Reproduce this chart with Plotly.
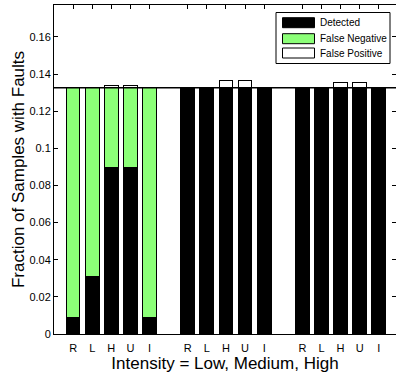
import plotly.graph_objects as go

# ---- data ----
groups = ["Low", "Medium", "High"]
methods = ["R", "L", "H", "U", "I"]
series_names = ["Detected", "False Negative", "False Positive"]

detected_low = [0.0088, 0.0311, 0.0897, 0.0897, 0.0088]
detected_medium = [0.1326, 0.1326, 0.1326, 0.1326, 0.1326]
detected_high = [0.1326, 0.1326, 0.1326, 0.1326, 0.1326]

false_negative_low = [0.1238, 0.1015, 0.0429, 0.0429, 0.1238]
false_negative_medium = [0, 0, 0, 0, 0]
false_negative_high = [0, 0, 0, 0, 0]

false_positive_low = [0, 0, 0.0013, 0.0013, 0]
false_positive_medium = [0, 0, 0.0042, 0.0042, 0]
false_positive_high = [0, 0, 0.0027, 0.0027, 0]

total_fault_fraction = 0.1326

y_tick_values = [0, 0.02, 0.04, 0.06, 0.08, 0.10, 0.12, 0.14, 0.16]
y_tick_labels = ["0", "0.02", "0.04", "0.06", "0.08", "0.1", "0.12", "0.14", "0.16"]

# ---- layout helpers ----
W, H = 396, 382
ML, MR, MT, MB = 54, 0, 5, 48
FONT = "Liberation Sans, Arial, Helvetica, sans-serif"

positions = []
tick_text = []
for g in range(len(groups)):
    for i, m in enumerate(methods):
        positions.append(g * (len(methods) + 1) + i + 1)
        tick_text.append(m)

detected = detected_low + detected_medium + detected_high
false_neg = false_negative_low + false_negative_medium + false_negative_high
false_pos = false_positive_low + false_positive_medium + false_positive_high


def nz(vals):
    return [v if v else None for v in vals]


colors = ["#000000", "#8cff78", "#ffffff"]
bar_w = 0.72

fig = go.Figure()
for name, vals, col in zip(series_names, [detected, false_neg, false_pos], colors):
    fig.add_trace(go.Bar(
        x=positions, y=nz(vals), name=name, width=bar_w,
        marker=dict(color=col, line=dict(color="#000000", width=1)),
        showlegend=False, hoverinfo="skip",
    ))

# invisible trace to carry the right-hand tick marks
fig.add_trace(go.Scatter(x=[None], y=[None], yaxis="y2", showlegend=False,
                         hoverinfo="skip", mode="markers"))

fig.update_layout(
    width=W, height=H,
    margin=dict(l=ML, r=MR, t=MT, b=MB, pad=0),
    barmode="stack",
    bargap=0,
    plot_bgcolor="white", paper_bgcolor="white",
    font=dict(family=FONT, color="#000000"),
    hovermode=False,
    xaxis=dict(
        range=[0, 17.9], tickvals=positions, ticktext=tick_text,
        ticks="inside", ticklen=4, tickcolor="#000000", tickwidth=1,
        showline=True, linecolor="#000000", linewidth=1, mirror="ticks",
        showgrid=False, zeroline=False,
        tickfont=dict(size=11, family=FONT), ticklabelstandoff=4,
        title=dict(text="Intensity = Low, Medium, High",
                   font=dict(size=17, family=FONT), standoff=3),
    ),
    yaxis=dict(
        range=[0, 0.1772], tickvals=y_tick_values, ticktext=y_tick_labels,
        ticks="inside", ticklen=4, tickcolor="#000000", tickwidth=1,
        showline=True, linecolor="#000000", linewidth=1, mirror=False,
        showgrid=False, zeroline=False,
        tickfont=dict(size=11, family=FONT),
        title=dict(text="Fraction of Samples with Faults",
                   font=dict(size=17, family=FONT), standoff=0),
    ),
    yaxis2=dict(
        overlaying="y", side="right", range=[0, 0.1772],
        tickvals=y_tick_values, showticklabels=False,
        ticks="inside", ticklen=4, tickcolor="#000000",
        showline=False, showgrid=False, zeroline=False,
    ),
)

# total-fault reference line
fig.add_shape(type="line", xref="paper", yref="y", x0=0, x1=1,
              y0=total_fault_fraction, y1=total_fault_fraction,
              line=dict(color="#000000", width=1.5), layer="above")

# ---- legend box (drawn in paper coordinates) ----
PW = W - ML - MR
PH = H - MT - MB


def px_x(p):
    return (p - ML) / PW


def px_y(p):
    return (H - MB - p) / PH


fig.add_shape(type="rect", xref="paper", yref="paper",
              x0=px_x(276), x1=px_x(390), y0=px_y(63.5), y1=px_y(12.5),
              line=dict(color="#000000", width=1), fillcolor="white", layer="above")
row_centers = [22.7, 38.7, 53.0]
for name, col, cy in zip(series_names, colors, row_centers):
    fig.add_shape(type="rect", xref="paper", yref="paper",
                  x0=px_x(282.5), x1=px_x(314.5), y0=px_y(cy + 5), y1=px_y(cy - 5),
                  line=dict(color="#000000", width=1), fillcolor=col, layer="above")
    fig.add_annotation(xref="paper", yref="paper", x=px_x(318), y=px_y(cy),
                       text=name, showarrow=False, xanchor="left", yanchor="middle",
                       font=dict(size=10, family=FONT, color="#000000"))

fig.write_html(
    "out.html",
    config={"displayModeBar": False, "staticPlot": True},
    post_script="document.body.style.margin='0';document.body.style.overflow='hidden';",
)
